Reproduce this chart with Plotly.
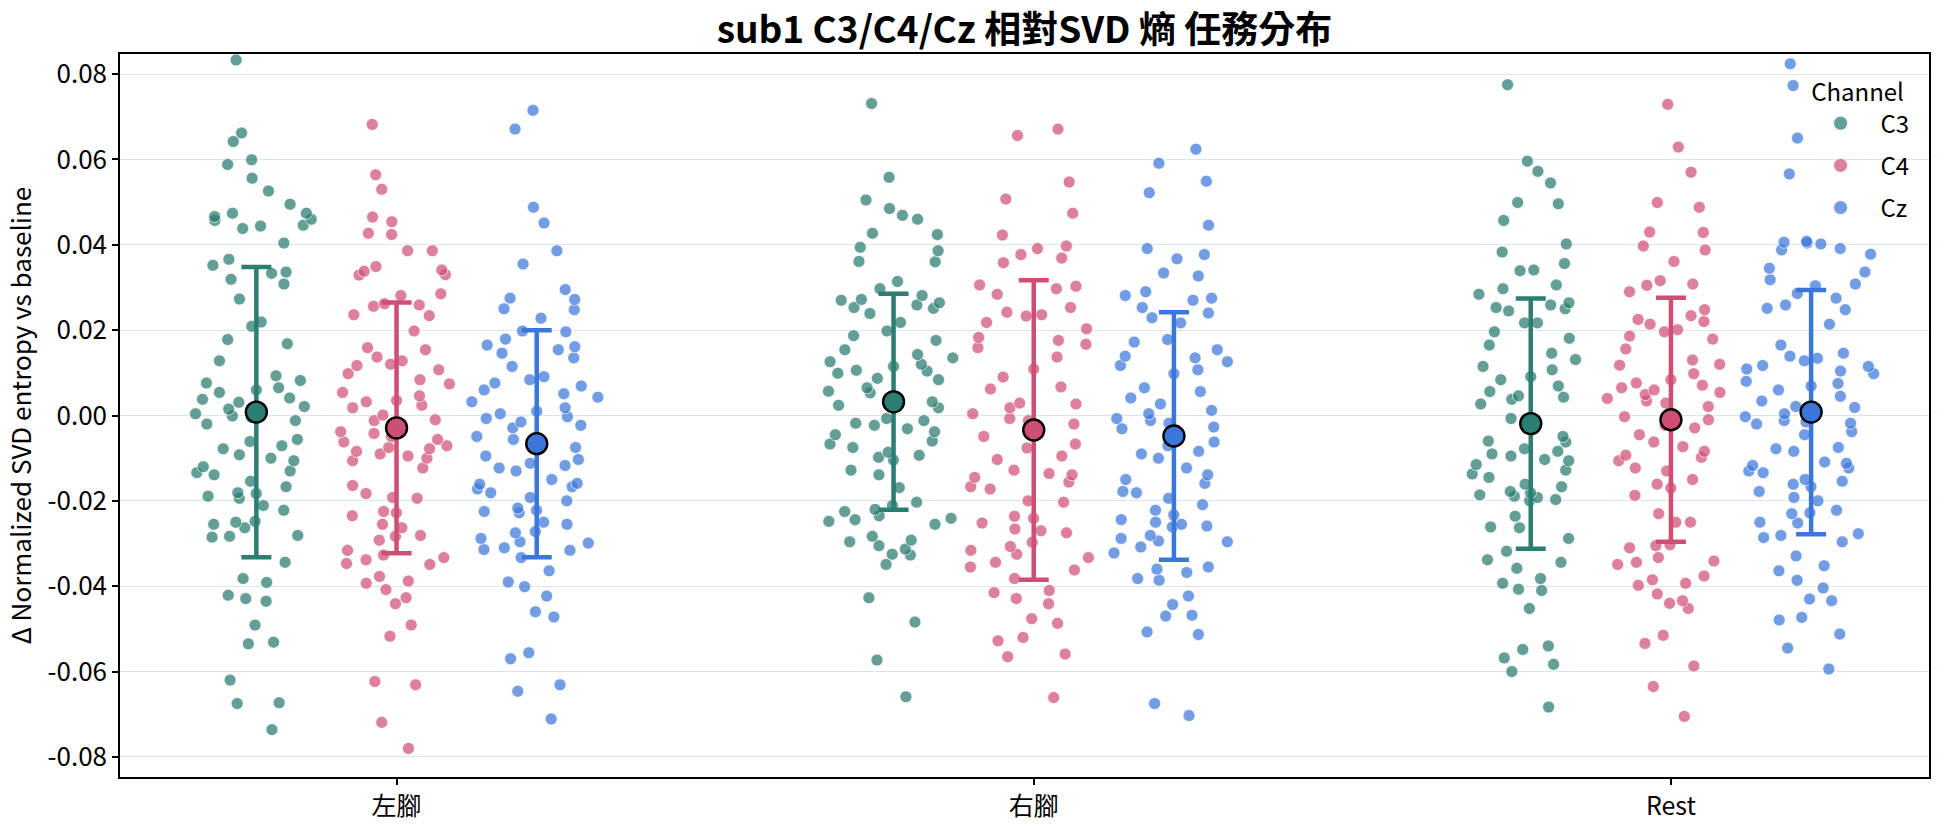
import plotly.graph_objects as go

# ---------------- data ----------------
categories = ["左腳", "右腳", "Rest"]
channels = ["C3", "C4", "Cz"]

left_c3 = [0.0833, 0.0662, 0.0642, 0.0599, 0.0588, 0.0556, 0.0526, 0.0495, 0.0474, 0.0474,
           0.0466, 0.0457, 0.0446, 0.0444, 0.0460, 0.0438, 0.0404, 0.0366, 0.0352, 0.0336,
           0.0333, 0.0319, 0.0308, 0.0273, 0.0219, 0.0209, 0.0178, 0.0168, 0.0128, 0.0093,
           0.0082, 0.0076, 0.0065, 0.0060, 0.0054, 0.0041, 0.0038, 0.0031, 0.0021, 0.0015,
           0.0004, -0.0001, -0.0004, -0.0012, -0.0020, -0.0056, -0.0061, -0.0071, -0.0078,
           -0.0092, -0.0100, -0.0106, -0.0120, -0.0130, -0.0134, -0.0139, -0.0154, -0.0167,
           -0.0181, -0.0183, -0.0189, -0.0194, -0.0211, -0.0222, -0.0248, -0.0250, -0.0255,
           -0.0263, -0.0281, -0.0283, -0.0285, -0.0344, -0.0382, -0.0391, -0.0421, -0.0429,
           -0.0435, -0.0491, -0.0531, -0.0535, -0.0620, -0.0673, -0.0675, -0.0736]
left_c4 = [0.0682, 0.0564, 0.0530, 0.0465, 0.0454, 0.0427, 0.0424, 0.0386, 0.0386, 0.0349,
           0.0341, 0.0338, 0.0330, 0.0329, 0.0285, 0.0281, 0.0262, 0.0259, 0.0256, 0.0236,
           0.0234, 0.0198, 0.0159, 0.0154, 0.0137, 0.0128, 0.0120, 0.0117, 0.0107, 0.0098,
           0.0084, 0.0074, 0.0054, 0.0046, 0.0035, 0.0032, 0.0024, 0.0018, 0.0001, -0.0010,
           -0.0012, -0.0038, -0.0042, -0.0049, -0.0056, -0.0062, -0.0071, -0.0075, -0.0078,
           -0.0084, -0.0090, -0.0095, -0.0100, -0.0106, -0.0123, -0.0164, -0.0183, -0.0192,
           -0.0194, -0.0225, -0.0228, -0.0235, -0.0255, -0.0263, -0.0281, -0.0283, -0.0292,
           -0.0316, -0.0327, -0.0333, -0.0338, -0.0347, -0.0349, -0.0377, -0.0388, -0.0393,
           -0.0408, -0.0427, -0.0441, -0.0491, -0.0517, -0.0623, -0.0631, -0.0719, -0.0780]
left_cz = [0.0715, 0.0671, 0.0488, 0.0451, 0.0386, 0.0355, 0.0295, 0.0275, 0.0272, 0.0250,
           0.0248, 0.0228, 0.0198, 0.0196, 0.0179, 0.0165, 0.0161, 0.0154, 0.0146, 0.0135,
           0.0115, 0.0091, 0.0084, 0.0076, 0.0069, 0.0060, 0.0051, 0.0043, 0.0032, 0.0018,
           0.0010, 0.0004, -0.0003, -0.0007, -0.0015, -0.0023, -0.0029, -0.0049, -0.0056,
           -0.0067, -0.0075, -0.0095, -0.0103, -0.0112, -0.0117, -0.0123, -0.0130, -0.0150,
           -0.0159, -0.0161, -0.0167, -0.0172, -0.0181, -0.0192, -0.0200, -0.0217, -0.0222,
           -0.0225, -0.0228, -0.0250, -0.0255, -0.0272, -0.0275, -0.0288, -0.0296, -0.0299,
           -0.0310, -0.0314, -0.0316, -0.0333, -0.0364, -0.0390, -0.0401, -0.0423, -0.0460,
           -0.0472, -0.0556, -0.0570, -0.0631, -0.0646, -0.0711]
right_c3 = [0.0731, 0.0558, 0.0505, 0.0485, 0.0469, 0.0460, 0.0427, 0.0424, 0.0394, 0.0386,
            0.0361, 0.0360, 0.0314, 0.0297, 0.0281, 0.0272, 0.0270, 0.0264, 0.0259, 0.0253,
            0.0251, 0.0239, 0.0218, 0.0198, 0.0187, 0.0176, 0.0154, 0.0143, 0.0135, 0.0126,
            0.0120, 0.0115, 0.0106, 0.0104, 0.0099, 0.0087, 0.0084, 0.0065, 0.0057, 0.0053,
            0.0038, 0.0032, 0.0024, 0.0018, -0.0007, -0.0012, -0.0018, -0.0023, -0.0031,
            -0.0038, -0.0045, -0.0060, -0.0067, -0.0075, -0.0086, -0.0093, -0.0098, -0.0104,
            -0.0128, -0.0139, -0.0169, -0.0203, -0.0211, -0.0220, -0.0225, -0.0235, -0.0241,
            -0.0244, -0.0248, -0.0255, -0.0283, -0.0292, -0.0296, -0.0305, -0.0313, -0.0325,
            -0.0327, -0.0349, -0.0427, -0.0484, -0.0573, -0.0659]
right_c4 = [0.0671, 0.0656, 0.0547, 0.0507, 0.0474, 0.0423, 0.0397, 0.0391, 0.0377, 0.0369,
            0.0358, 0.0306, 0.0303, 0.0297, 0.0284, 0.0253, 0.0242, 0.0236, 0.0233, 0.0218,
            0.0203, 0.0183, 0.0176, 0.0167, 0.0159, 0.0137, 0.0109, 0.0090, 0.0067, 0.0062,
            0.0029, 0.0027, 0.0018, 0.0004, -0.0007, -0.0012, -0.0020, -0.0049, -0.0067,
            -0.0076, -0.0095, -0.0103, -0.0128, -0.0136, -0.0139, -0.0145, -0.0156, -0.0167,
            -0.0172, -0.0200, -0.0203, -0.0236, -0.0241, -0.0252, -0.0266, -0.0270, -0.0275,
            -0.0297, -0.0307, -0.0316, -0.0325, -0.0333, -0.0344, -0.0355, -0.0362, -0.0382,
            -0.0410, -0.0415, -0.0429, -0.0441, -0.0476, -0.0487, -0.0520, -0.0528, -0.0559,
            -0.0565, -0.0661]
right_cz = [0.0624, 0.0591, 0.0549, 0.0522, 0.0446, 0.0391, 0.0377, 0.0367, 0.0334, 0.0327,
            0.0290, 0.0281, 0.0275, 0.0270, 0.0253, 0.0240, 0.0229, 0.0217, 0.0178, 0.0172,
            0.0154, 0.0139, 0.0135, 0.0126, 0.0117, 0.0107, 0.0098, 0.0065, 0.0056, 0.0041,
            0.0027, 0.0012, 0.0004, -0.0007, -0.0012, -0.0018, -0.0027, -0.0031, -0.0062,
            -0.0071, -0.0084, -0.0090, -0.0100, -0.0123, -0.0139, -0.0150, -0.0159, -0.0178,
            -0.0181, -0.0194, -0.0209, -0.0222, -0.0233, -0.0244, -0.0250, -0.0255, -0.0261,
            -0.0259, -0.0281, -0.0288, -0.0294, -0.0296, -0.0308, -0.0322, -0.0355, -0.0360,
            -0.0368, -0.0382, -0.0386, -0.0423, -0.0443, -0.0468, -0.0470, -0.0507, -0.0513,
            -0.0675, -0.0703]
rest_c3 = [0.0775, 0.0596, 0.0572, 0.0545, 0.0499, 0.0496, 0.0457, 0.0402, 0.0383, 0.0356,
           0.0341, 0.0339, 0.0306, 0.0297, 0.0284, 0.0264, 0.0259, 0.0253, 0.0250, 0.0245,
           0.0217, 0.0217, 0.0196, 0.0181, 0.0165, 0.0146, 0.0131, 0.0115, 0.0107, 0.0091,
           0.0084, 0.0069, 0.0056, 0.0046, 0.0043, 0.0038, 0.0027, -0.0007, -0.0021, -0.0049,
           -0.0060, -0.0062, -0.0078, -0.0084, -0.0090, -0.0095, -0.0103, -0.0106, -0.0115,
           -0.0128, -0.0137, -0.0145, -0.0161, -0.0167, -0.0178, -0.0181, -0.0186, -0.0189,
           -0.0192, -0.0197, -0.0200, -0.0236, -0.0261, -0.0263, -0.0288, -0.0318, -0.0338,
           -0.0344, -0.0358, -0.0382, -0.0393, -0.0407, -0.0410, -0.0452, -0.0540, -0.0548,
           -0.0568, -0.0583, -0.0600, -0.0683]
rest_c4 = [0.0729, 0.0629, 0.0570, 0.0499, 0.0488, 0.0430, 0.0429, 0.0397, 0.0388, 0.0361,
           0.0316, 0.0308, 0.0305, 0.0290, 0.0248, 0.0234, 0.0225, 0.0220, 0.0214, 0.0201,
           0.0196, 0.0186, 0.0179, 0.0156, 0.0130, 0.0120, 0.0118, 0.0098, 0.0084, 0.0076,
           0.0071, 0.0065, 0.0060, 0.0054, 0.0049, 0.0040, 0.0034, 0.0029, 0.0021, -0.0003,
           -0.0010, -0.0023, -0.0029, -0.0045, -0.0062, -0.0073, -0.0084, -0.0093, -0.0098,
           -0.0106, -0.0123, -0.0130, -0.0150, -0.0161, -0.0170, -0.0187, -0.0230, -0.0250,
           -0.0250, -0.0303, -0.0310, -0.0305, -0.0333, -0.0341, -0.0344, -0.0349, -0.0376,
           -0.0385, -0.0393, -0.0398, -0.0418, -0.0434, -0.0440, -0.0452, -0.0515, -0.0534,
           -0.0587, -0.0635, -0.0705]
rest_cz = [0.0824, 0.0773, 0.0650, 0.0566, 0.0406, 0.0404, 0.0402, 0.0391, 0.0408, 0.0388,
           0.0378, 0.0345, 0.0336, 0.0318, 0.0308, 0.0304, 0.0286, 0.0275, 0.0259, 0.0251,
           0.0248, 0.0214, 0.0165, 0.0146, 0.0139, 0.0134, 0.0128, 0.0117, 0.0115, 0.0109,
           0.0104, 0.0098, 0.0080, 0.0075, 0.0069, 0.0060, 0.0045, 0.0034, 0.0021, 0.0019,
           0.0004, -0.0003, -0.0012, -0.0015, -0.0018, -0.0020, -0.0038, -0.0045, -0.0075,
           -0.0078, -0.0084, -0.0109, -0.0112, -0.0117, -0.0123, -0.0130, -0.0134, -0.0150,
           -0.0154, -0.0161, -0.0167, -0.0178, -0.0192, -0.0200, -0.0222, -0.0228, -0.0230,
           -0.0252, -0.0250, -0.0277, -0.0281, -0.0286, -0.0296, -0.0329, -0.0352, -0.0364,
           -0.0386, -0.0404, -0.0430, -0.0434, -0.0473, -0.0479, -0.0512, -0.0545, -0.0594]

# mean and SD per category (左腳, 右腳, Rest)
mean_c3 = [0.0008, 0.0032, -0.0019]
mean_c4 = [-0.0029, -0.0034, -0.0010]
mean_cz = [-0.0066, -0.0048, 0.0008]
sd_c3 = [0.0340, 0.0253, 0.0293]
sd_c4 = [0.0294, 0.0351, 0.0286]
sd_cz = [0.0266, 0.0290, 0.0286]

y_tick_vals = [-0.08, -0.06, -0.04, -0.02, 0.0, 0.02, 0.04, 0.06, 0.08]
y_tick_text = ["-0.08", "-0.06", "-0.04", "-0.02", "0.00", "0.02", "0.04", "0.06", "0.08"]

# ---------------- styling ----------------
FONT = "Noto Sans CJK TC"
base_colors = {"C3": "rgb(44,125,114)", "C4": "rgb(207,79,116)", "Cz": "rgb(59,119,218)"}
dot_colors = {"C3": "rgba(44,125,114,0.74)", "C4": "rgba(207,79,116,0.72)", "Cz": "rgba(59,119,218,0.72)"}
dodge = {"C3": -0.22, "C4": 0.0, "Cz": 0.22}

points = {
    "C3": [left_c3, right_c3, rest_c3],
    "C4": [left_c4, right_c4, rest_c4],
    "Cz": [left_cz, right_cz, rest_cz],
}
means = {"C3": mean_c3, "C4": mean_c4, "Cz": mean_cz}
sds = {"C3": sd_c3, "C4": sd_c4, "Cz": sd_cz}

fig = go.Figure()

# strip points via box traces (library jitter), boxes themselves invisible
for ch in channels:
    for i, vals in enumerate(points[ch]):
        pos = i + dodge[ch]
        fig.add_trace(go.Box(
            x=[pos] * len(vals), y=vals,
            width=0.23, boxpoints="all", jitter=1.0, pointpos=0,
            fillcolor="rgba(0,0,0,0)",
            line=dict(color="rgba(0,0,0,0)", width=0),
            marker=dict(color=dot_colors[ch], size=12,
                        line=dict(color="rgba(255,255,255,0.85)", width=0.8)),
            hoveron="points", showlegend=False, name=ch,
        ))

# mean +/- SD
for ch in channels:
    fig.add_trace(go.Scatter(
        x=[i + dodge[ch] for i in range(len(categories))], y=means[ch],
        mode="markers",
        error_y=dict(type="data", array=sds[ch], color=base_colors[ch], thickness=4.5, width=15),
        marker=dict(color=base_colors[ch], size=21, line=dict(color="black", width=2.4)),
        showlegend=False, name=ch,
    ))

# legend entries
for ch in channels:
    fig.add_trace(go.Scatter(
        x=[None], y=[None], mode="markers", name=ch, legendgroup=ch,
        marker=dict(color=dot_colors[ch], size=14, line=dict(color="white", width=0.8)),
    ))

fig.update_layout(
    width=1944, height=827,
    margin=dict(l=120, r=15, t=54, b=50, autoexpand=False),
    paper_bgcolor="white", plot_bgcolor="white",
    font=dict(family=FONT, size=24, color="black"),
    title=dict(text="<b>sub1 C3/C4/Cz 相對SVD 熵 任務分布</b>", x=0.5, xref="paper",
               y=0.964, yanchor="middle", font=dict(size=37, family=FONT)),
    showlegend=True,
    legend=dict(x=0.929, xanchor="left", y=0.978, yanchor="top",
                bgcolor="rgba(0,0,0,0)", borderwidth=0, itemwidth=70,
                title=dict(text="Channel", side="top center", font=dict(size=24)),
                font=dict(size=24), tracegroupgap=8),
    boxmode="overlay",
)
fig.update_xaxes(
    type="linear", range=[-0.434, 2.405], automargin=False,
    tickvals=list(range(len(categories))), ticktext=categories,
    showgrid=False, zeroline=False,
    showline=True, linecolor="black", linewidth=1.5, mirror=True,
    ticks="outside", ticklen=6, tickwidth=1.5, tickcolor="black",
    tickfont=dict(size=25),
)
fig.update_yaxes(
    range=[-0.0847, 0.0847], automargin=False,
    tickvals=y_tick_vals, ticktext=y_tick_text,
    showgrid=True, gridcolor="#dbe5ee", gridwidth=1, zeroline=False,
    showline=True, linecolor="black", linewidth=1.5, mirror=True,
    ticks="outside", ticklen=6, tickwidth=1.5, tickcolor="black",
    tickfont=dict(size=26),
    title=dict(text="Δ Normalized SVD entropy vs baseline", font=dict(size=26), standoff=8),
)

fig.write_html("out.html")
